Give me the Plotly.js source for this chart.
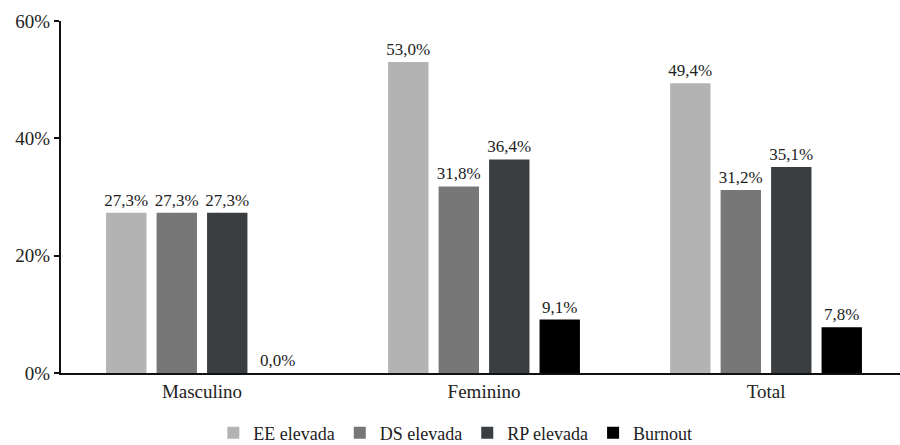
<!DOCTYPE html>
<html>
<head>
<meta charset="utf-8">
<script src="https://cdn.plot.ly/plotly-3.0.1.min.js"></script>
<style>
  html, body { margin: 0; padding: 0; background: #fff; }
  #chart { width: 900px; height: 445px; }
</style>
</head>
<body>
<div id="chart"></div>
<script>
// Groups shown along the x axis
const categories = ['Masculino', 'Feminino', 'Total'];

// Percentages per indicator, one value per group
const eeElevada = [27.3, 53.0, 49.4];
const dsElevada = [27.3, 31.8, 31.2];
const rpElevada = [27.3, 36.4, 35.1];
const burnout   = [0.0, 9.1, 7.8];

const seriesNames = ['EE elevada', 'DS elevada', 'RP elevada', 'Burnout'];
const seriesValues = [eeElevada, dsElevada, rpElevada, burnout];
const seriesColors = ['#b3b3b3', '#777777', '#3b3e41', '#000000'];

const yTickValues = [0, 20, 40, 60];
const yTickLabels = ['0%', '20%', '40%', '60%'];

const serif = 'Liberation Serif';

// Portuguese-style label: one decimal, comma separator
const fmt = v => v.toFixed(1).replace('.', ',') + '%';

const traces = seriesValues.map((vals, i) => ({
  type: 'bar',
  name: seriesNames[i],
  x: categories,
  y: vals,
  marker: { color: seriesColors[i] },
  text: vals.map(fmt),
  textposition: 'outside',
  constraintext: 'none',
  textfont: { family: serif, size: 17, color: '#222' },
  cliponaxis: false,
  hoverinfo: 'skip'
}));

const layout = {
  width: 900,
  height: 445,
  margin: { l: 61, r: 0, t: 21, b: 72, autoexpand: false },
  paper_bgcolor: '#fff',
  plot_bgcolor: '#fff',
  barmode: 'group',
  bargap: 0.284,
  bargroupgap: 0.2,
  font: { family: serif, size: 19, color: '#222' },
  xaxis: {
    type: 'category',
    range: [-0.5, 2.475],
    showline: true,
    linecolor: '#111',
    linewidth: 2,
    ticks: '',
    showgrid: false,
    zeroline: false,
    tickfont: { family: serif, size: 19, color: '#222' }
  },
  yaxis: {
    range: [0, 60],
    tickvals: yTickValues,
    ticktext: yTickLabels,
    showline: true,
    linecolor: '#111',
    linewidth: 2,
    ticks: 'outside',
    ticklen: 5,
    tickwidth: 2,
    tickcolor: '#111',
    showgrid: false,
    zeroline: false,
    tickfont: { family: serif, size: 19, color: '#222' }
  },
  showlegend: true,
  legend: {
    orientation: 'h',
    x: 0.47,
    xanchor: 'center',
    y: -0.118,
    yanchor: 'top',
    itemwidth: 30,
    font: { family: serif, size: 18, color: '#222' }
  }
};

Plotly.newPlot('chart', traces, layout, { displayModeBar: false, staticPlot: true });
</script>
</body>
</html>
